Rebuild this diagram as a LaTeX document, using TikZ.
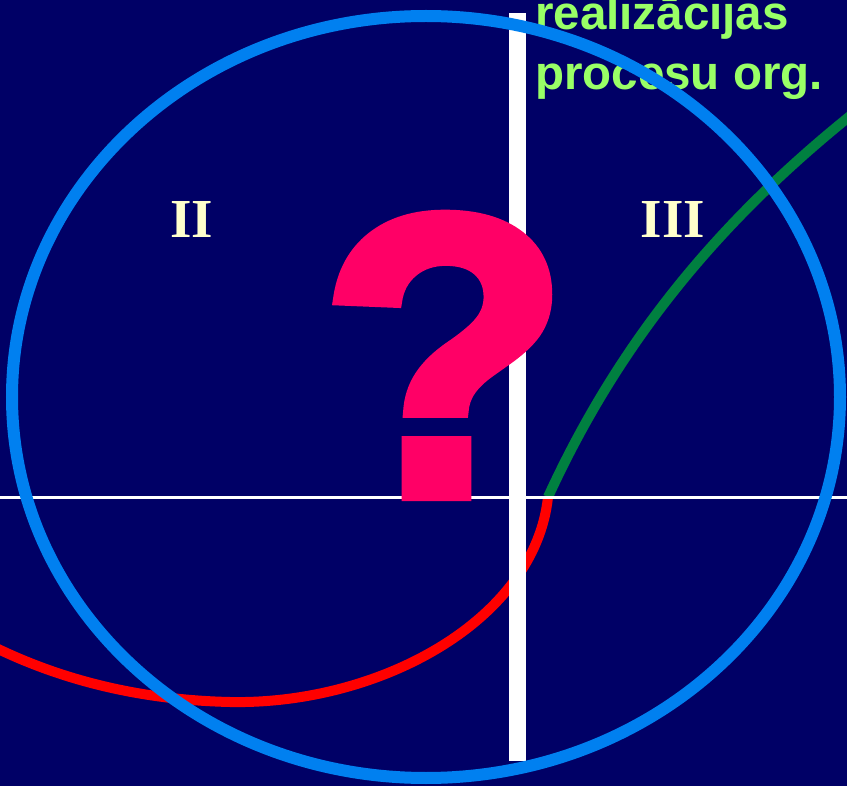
\documentclass[tikz,border=0pt]{standalone}
\usepackage{fontspec}
\setmainfont{Liberation Serif}
\setsansfont{Liberation Sans}
\newfontfamily\heavyfont[FakeBold=3]{Liberation Sans Bold}
\usepackage{tikz}
\usetikzlibrary{positioning}
\definecolor{night}{HTML}{000066}
\definecolor{sky}{HTML}{0080F0}
\definecolor{fire}{HTML}{FF0000}
\definecolor{leaf}{HTML}{008040}
\definecolor{rose}{HTML}{FF0066}
\definecolor{cream}{HTML}{FFFFCC}
\definecolor{lime}{HTML}{99FF66}

\begin{document}
\begin{tikzpicture}[x=1pt, y=-1pt,
    roman/.style={text=cream, inner sep=0, font=\fontsize{55}{55}\selectfont\bfseries},
    lbl/.style={text=lime, inner sep=0, anchor=base west, font=\fontsize{47.5}{57}\selectfont\sffamily\bfseries}]
    \useasboundingbox (0,0) rectangle (847,786);
    \clip (0,0) rectangle (847,786);
    \fill[night] (0,0) rectangle (847,786);
    \coordinate (O) at (548,497);
    \draw[fire, line width=10pt] (O) .. controls (535,620) and (380,705) .. (230,702) .. controls (140,700) and (60,680) .. (-10,645);
    \draw[leaf, line width=10pt] (O) .. controls (620,340) and (720,220) .. (855,112);
    \draw[white, line width=3pt] (0,498) -- (847,498);
    \fill[white] (509,13) rectangle (526,761);
    \node[text=rose, inner sep=0, anchor=base, xscale=1.02, font=\fontsize{400}{400}\selectfont\heavyfont] (Q) at (445,495) {?};
    \node[roman] (II) at (192,219) {II};
    \node[roman] (III) at (673,219) {III};
    \node[lbl] (R) at (535,30) {realizācijas};
    \node[lbl] (P) at (535,90) {procesu org.};
    \draw[sky, line width=12pt] (426,397) ellipse [x radius=414, y radius=381];
\end{tikzpicture}
\end{document}
